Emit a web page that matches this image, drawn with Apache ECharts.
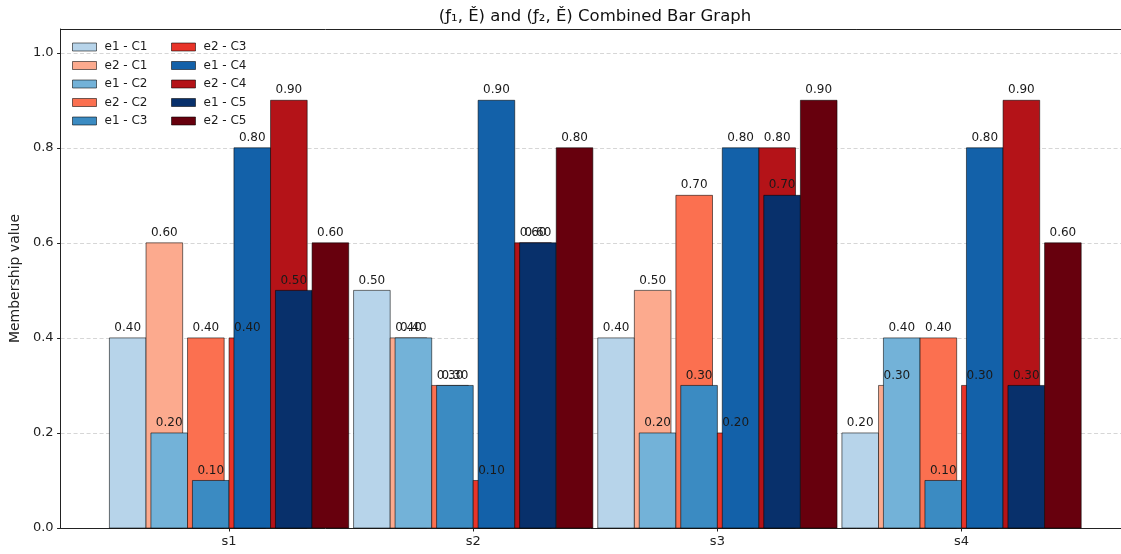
<!DOCTYPE html>
<html>
<head>
<meta charset="utf-8">
<title>Combined Bar Graph</title>
<script src="https://cdn.jsdelivr.net/npm/echarts@6/dist/echarts.min.js"></script>
<style>
  html, body { margin: 0; padding: 0; background: #fff; }
  #chart { width: 1121px; height: 554px; }
</style>
</head>
<body>
<div id="chart"></div>
<script>
// Groups along the x axis
const groups = ['s1', 's2', 's3', 's4'];

// Membership values per group (s1..s4)
const e1C1 = [0.40, 0.50, 0.40, 0.20];
const e2C1 = [0.60, 0.40, 0.50, 0.30];
const e1C2 = [0.20, 0.40, 0.20, 0.40];
const e2C2 = [0.40, 0.30, 0.70, 0.40];
const e1C3 = [0.10, 0.30, 0.30, 0.10];
const e2C3 = [0.40, 0.10, 0.20, 0.30];
const e1C4 = [0.80, 0.90, 0.80, 0.80];
const e2C4 = [0.90, 0.60, 0.80, 0.90];
const e1C5 = [0.50, 0.60, 0.70, 0.30];
const e2C5 = [0.60, 0.80, 0.90, 0.60];

// Series names, drawn in this order (later ones on top)
const seriesNames = [
  'e1 - C1', 'e2 - C1', 'e1 - C2', 'e2 - C2', 'e1 - C3',
  'e2 - C3', 'e1 - C4', 'e2 - C4', 'e1 - C5', 'e2 - C5'
];
const seriesValues = [e1C1, e2C1, e1C2, e2C2, e1C3, e2C3, e1C4, e2C4, e1C5, e2C5];

// Y axis tick values
const yTicks = [0.0, 0.2, 0.4, 0.6, 0.8, 1.0];

// Blues for e1, Reds for e2
const colors = [
  '#b7d4ea', '#fcaa8e', '#73b2d8', '#fb7050', '#3b8bc2',
  '#e83429', '#1361a9', '#b41318', '#08306b', '#67000d'
];

const BAR_W = 0.15;      // bar width in x units
const PAIR_STEP = 0.17;  // distance between consecutive criteria
const E_SHIFT = 0.15;    // e2 bar sits right next to its e1 bar
const FIRST = -0.415;    // centre of the first bar relative to group

const edge = 'rgba(0,0,0,0.55)';
const font = '"DejaVu Sans", "Liberation Sans", sans-serif';

function renderBar(params, api) {
  const idx = params.seriesIndex;
  const k = Math.floor(idx / 2);
  const e = idx % 2;
  const g = api.value(0);
  const v = api.value(1);
  const cx = g + FIRST + PAIR_STEP * k + E_SHIFT * e;
  const tl = api.coord([cx - BAR_W / 2, v]);
  const br = api.coord([cx + BAR_W / 2, 0]);
  const top = api.coord([cx, v]);
  return {
    type: 'group',
    children: [
      {
        type: 'rect',
        shape: { x: tl[0], y: tl[1], width: br[0] - tl[0], height: br[1] - tl[1] },
        style: { fill: colors[idx], stroke: edge, lineWidth: 1 }
      },
      {
        type: 'text',
        z2: 100,
        x: top[0],
        y: top[1] - 4,
        style: {
          text: v.toFixed(2),
          align: 'center',
          verticalAlign: 'bottom',
          fill: '#1a1a1a',
          font: '12px ' + font
        }
      }
    ]
  };
}

const series = seriesNames.map((name, i) => ({
  type: 'custom',
  name: name,
  renderItem: renderBar,
  itemStyle: { color: colors[i] },
  data: seriesValues[i].map((v, g) => [g, v]),
  encode: { x: 0, y: 1 },
  clip: false
}));

const legendCommon = {
  orient: 'vertical',
  top: 40,
  padding: 0,
  itemWidth: 24,
  itemHeight: 8,
  itemGap: 4.5,
  icon: 'rect',
  selectedMode: false,
  itemStyle: { borderColor: edge, borderWidth: 1 },
  textStyle: {
    fontFamily: font, fontSize: 12, color: '#1a1a1a',
    lineHeight: 14, padding: [0, 0, 0, 3]
  }
};

const chart = echarts.init(document.getElementById('chart'), null, { renderer: 'canvas' });
chart.setOption({
  animation: false,
  backgroundColor: '#fff',
  title: {
    text: '(ƒ₁, Ě) and (ƒ₂, Ě) Combined Bar Graph',
    left: 595,
    top: 8,
    padding: 0,
    textAlign: 'center',
    textStyle: { fontFamily: font, fontSize: 16.5, fontWeight: 'normal', color: '#111' }
  },
  legend: [
    Object.assign({}, legendCommon, { left: 72, data: seriesNames.slice(0, 5) }),
    Object.assign({}, legendCommon, { left: 171, data: seriesNames.slice(5) })
  ],
  grid: { left: 60, right: 0, top: 29, bottom: 26, containLabel: false },
  xAxis: [
    {
      type: 'value',
      min: -0.69,
      max: 3.653,
      position: 'bottom',
      axisLine: { show: true, onZero: false, lineStyle: { color: '#222', width: 1 } },
      axisTick: { show: true, length: 3.5, lineStyle: { color: '#222' }, customValues: [0, 1, 2, 3] },
      axisLabel: {
        customValues: [0, 1, 2, 3],
        formatter: (v) => groups[Math.round(v)],
        fontFamily: font, fontSize: 13, color: '#222', margin: 7
      },
      splitLine: { show: false }
    },
    {
      type: 'value',
      min: -0.69,
      max: 3.653,
      position: 'top',
      axisLine: { show: true, onZero: false, lineStyle: { color: '#222', width: 1 } },
      axisTick: { show: false },
      axisLabel: { show: false },
      splitLine: { show: false }
    }
  ],
  yAxis: {
    type: 'value',
    min: 0,
    max: 1.05,
    position: 'left',
    name: 'Membership value',
    nameLocation: 'middle',
    nameGap: 37,
    nameTextStyle: { fontFamily: font, fontSize: 14, color: '#222' },
    axisLine: { show: true, onZero: false, lineStyle: { color: '#222', width: 1 } },
    axisTick: { show: true, length: 3.5, lineStyle: { color: '#222' }, customValues: yTicks },
    axisLabel: {
      customValues: yTicks,
      formatter: (v) => v.toFixed(1),
      fontFamily: font, fontSize: 13, color: '#222', margin: 7
    },
    splitLine: { show: true, lineStyle: { color: '#d6d6d6', width: 1, type: [4, 2.5] } }
  },
  series: series
});
</script>
</body>
</html>
